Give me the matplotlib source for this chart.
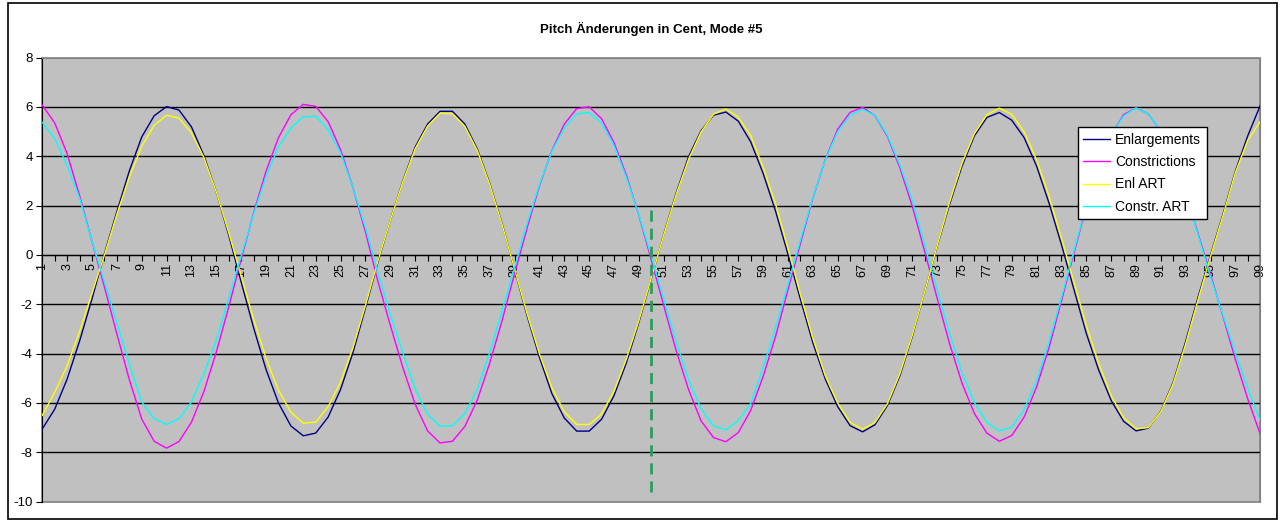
import matplotlib
matplotlib.use("Agg")
import matplotlib.pyplot as plt
from matplotlib.patches import Rectangle

plt.rcParams['font.family'] = ['Liberation Sans', 'DejaVu Sans']
plt.rcParams['axes.unicode_minus'] = False

title = "Pitch Änderungen in Cent, Mode #5"
points = list(range(1, 100))

enlargements = [
    -7.05, -6.25, -5.03, -3.49, -1.78, 0.05, 1.75, 3.4, 4.78, 5.64,
    6.01, 5.87, 5.19, 4.03, 2.55, 0.8, -1.1, -2.95, -4.64, -6.0,
    -6.93, -7.33, -7.22, -6.57, -5.45, -3.95, -2.15, -0.3, 1.4, 2.98,
    4.37, 5.3, 5.82, 5.82, 5.3, 4.29, 2.9, 1.25, -0.6, -2.45,
    -4.15, -5.62, -6.61, -7.14, -7.14, -6.66, -5.7, -4.36, -2.73, -0.97,
    0.83, 2.5, 3.98, 5.03, 5.66, 5.79, 5.42, 4.58, 3.3, 1.77,
    0.02, -1.8, -3.56, -5.03, -6.15, -6.92, -7.17, -6.88, -6.1, -4.9,
    -3.3, -1.48, 0.35, 2.05, 3.6, 4.83, 5.57, 5.77, 5.46, 4.75,
    3.6, 2.1, 0.42, -1.39, -3.18, -4.67, -5.9, -6.74, -7.13, -7.02,
    -6.33, -5.15, -3.5, -1.7, 0.0, 1.65, 3.4, 4.84, 6.06,
]
constrictions = [
    6.07, 5.35, 4.1, 2.4, 0.55, -1.3, -3.2, -5.05, -6.65, -7.55,
    -7.83, -7.56, -6.78, -5.54, -3.94, -2.11, -0.17, 1.7, 3.39, 4.75,
    5.68, 6.1, 6.02, 5.4, 4.26, 2.72, 0.93, -1.07, -2.85, -4.55,
    -6.05, -7.13, -7.62, -7.55, -6.95, -5.88, -4.38, -2.65, -0.76, 1.08,
    2.8, 4.23, 5.3, 5.93, 6.0, 5.52, 4.55, 3.22, 1.6, -0.2,
    -2.05, -3.88, -5.46, -6.72, -7.4, -7.57, -7.2, -6.3, -4.92, -3.3,
    -1.4, 0.47, 2.3, 3.87, 5.1, 5.78, 5.98, 5.64, 4.8, 3.53,
    1.97, 0.13, -1.76, -3.6, -5.2, -6.43, -7.22, -7.55, -7.32, -6.57,
    -5.35, -3.76, -1.86, 0.06, 1.95, 3.6, 4.87, 5.68, 5.96, 5.71,
    5.0, 3.95, 2.5, 0.85, -0.8, -2.5, -4.25, -5.85, -7.27,
]
enl_art = [
    -6.5, -5.57, -4.49, -3.1, -1.55, 0.0, 1.65, 3.15, 4.4, 5.25,
    5.66, 5.54, 4.95, 3.95, 2.55, 0.9, -0.85, -2.6, -4.18, -5.48,
    -6.37, -6.82, -6.77, -6.15, -5.15, -3.75, -2.05, -0.25, 1.4, 2.95,
    4.3, 5.22, 5.74, 5.72, 5.21, 4.23, 2.86, 1.22, -0.58, -2.37,
    -4.01, -5.38, -6.36, -6.87, -6.87, -6.45, -5.52, -4.21, -2.66, -0.94,
    0.81, 2.45, 3.88, 4.98, 5.7, 5.92, 5.58, 4.83, 3.55, 2.07,
    0.27, -1.6, -3.37, -4.9, -6.0, -6.79, -7.06, -6.79, -6.03, -4.82,
    -3.25, -1.48, 0.37, 2.14, 3.71, 4.92, 5.68, 5.95, 5.7, 4.99,
    3.85, 2.39, 0.69, -1.09, -2.85, -4.4, -5.7, -6.6, -7.04, -7.0,
    -6.35, -5.2, -3.6, -1.8, -0.05, 1.6, 3.35, 4.65, 5.41,
]
constr_art = [
    5.37, 4.72, 3.62, 2.3, 0.55, -1.1, -2.75, -4.4, -5.95, -6.63,
    -6.87, -6.64, -5.96, -4.82, -3.45, -1.77, -0.04, 1.65, 3.18, 4.38,
    5.14, 5.6, 5.62, 5.08, 4.13, 2.72, 1.1, -0.7, -2.4, -3.95,
    -5.44, -6.45, -6.94, -6.92, -6.43, -5.45, -3.95, -2.25, -0.5, 1.25,
    2.85, 4.2, 5.15, 5.71, 5.77, 5.35, 4.43, 3.13, 1.62, -0.05,
    -1.8, -3.52, -5.07, -6.23, -6.92, -7.09, -6.72, -6.02, -4.55, -2.95,
    -1.2, 0.6, 2.32, 3.86, 5.0, 5.67, 5.9, 5.65, 4.85, 3.64,
    2.21, 0.4, -1.42, -3.18, -4.78, -5.98, -6.78, -7.13, -6.98, -6.26,
    -5.09, -3.54, -1.73, 0.15, 2.0, 3.62, 4.89, 5.63, 5.96, 5.71,
    5.0, 3.95, 2.5, 0.8, -0.9, -2.45, -4.0, -5.42, -6.73,
]

# green marker line at point 50
marker_x = 50
marker_top = 1.9
marker_bottom = -9.6

W, H = 1282, 522
fig = plt.figure(figsize=(W / 100, H / 100), dpi=100)
fig.patch.set_facecolor('white')

# chart area border
fig.add_artist(Rectangle((8 / W, 3 / H), 1269 / W, 516 / H, transform=fig.transFigure,
                         fill=False, edgecolor='black', lw=1.2))

left, right, top, bottom = 42.3, 1260.3, 57.5, 501.7
ax = fig.add_axes([left / W, 1 - bottom / H, (right - left) / W, (bottom - top) / H])
ax.set_facecolor('#C0C0C0')

ax.plot(points, enlargements, color='#000080', lw=1.0, label='Enlargements', zorder=3)
ax.plot(points, constrictions, color='#FF00FF', lw=1.0, label='Constrictions', zorder=3)
ax.plot(points, enl_art, color='#FFFF00', lw=1.0, label='Enl ART', zorder=3)
ax.plot(points, constr_art, color='#00FFFF', lw=1.0, label='Constr. ART', zorder=3)

ax.vlines(marker_x, marker_bottom, marker_top, colors='#2E9A5E', linestyles=(0, (4, 2.5)),
          lw=2, zorder=4)

ax.set_xlim(1, 99)
ax.set_ylim(-10, 8)
ax.set_yticks(range(-10, 9, 2))
for yv in range(-8, 8, 2):
    ax.axhline(yv, color='black', lw=1.0, zorder=1)

ax.set_xticks(points)
ax.set_xticklabels([str(p) if p % 2 == 1 else '' for p in points])
ax.tick_params(axis='x', direction='out', length=4, width=0.8, pad=2,
               labelrotation=90, labelsize=9)
ax.tick_params(axis='y', direction='out', length=4, width=0.8, labelsize=9.5, pad=3)

ax.spines['bottom'].set_position(('data', 0))
ax.spines['bottom'].set_color('black')
ax.spines['bottom'].set_zorder(2)
ax.spines['left'].set_color('black')
ax.spines['top'].set_color('#808080')
ax.spines['right'].set_color('#808080')
ax.add_patch(Rectangle((0, 0), 1, 1, transform=ax.transAxes, fill=False,
                       edgecolor='#808080', lw=1.2, zorder=0.5, clip_on=False))

ax.set_title(title, fontsize=9.5, fontweight='bold', pad=18)

leg = ax.legend(loc='upper left', bbox_to_anchor=(0.850, 0.843), borderaxespad=0,
                fontsize=10, frameon=True, fancybox=False, framealpha=1,
                edgecolor='black', handlelength=1.9, handletextpad=0.4,
                labelspacing=0.6, borderpad=0.4)
leg.get_frame().set_linewidth(1.0)

fig.savefig('out.png', dpi=100)
